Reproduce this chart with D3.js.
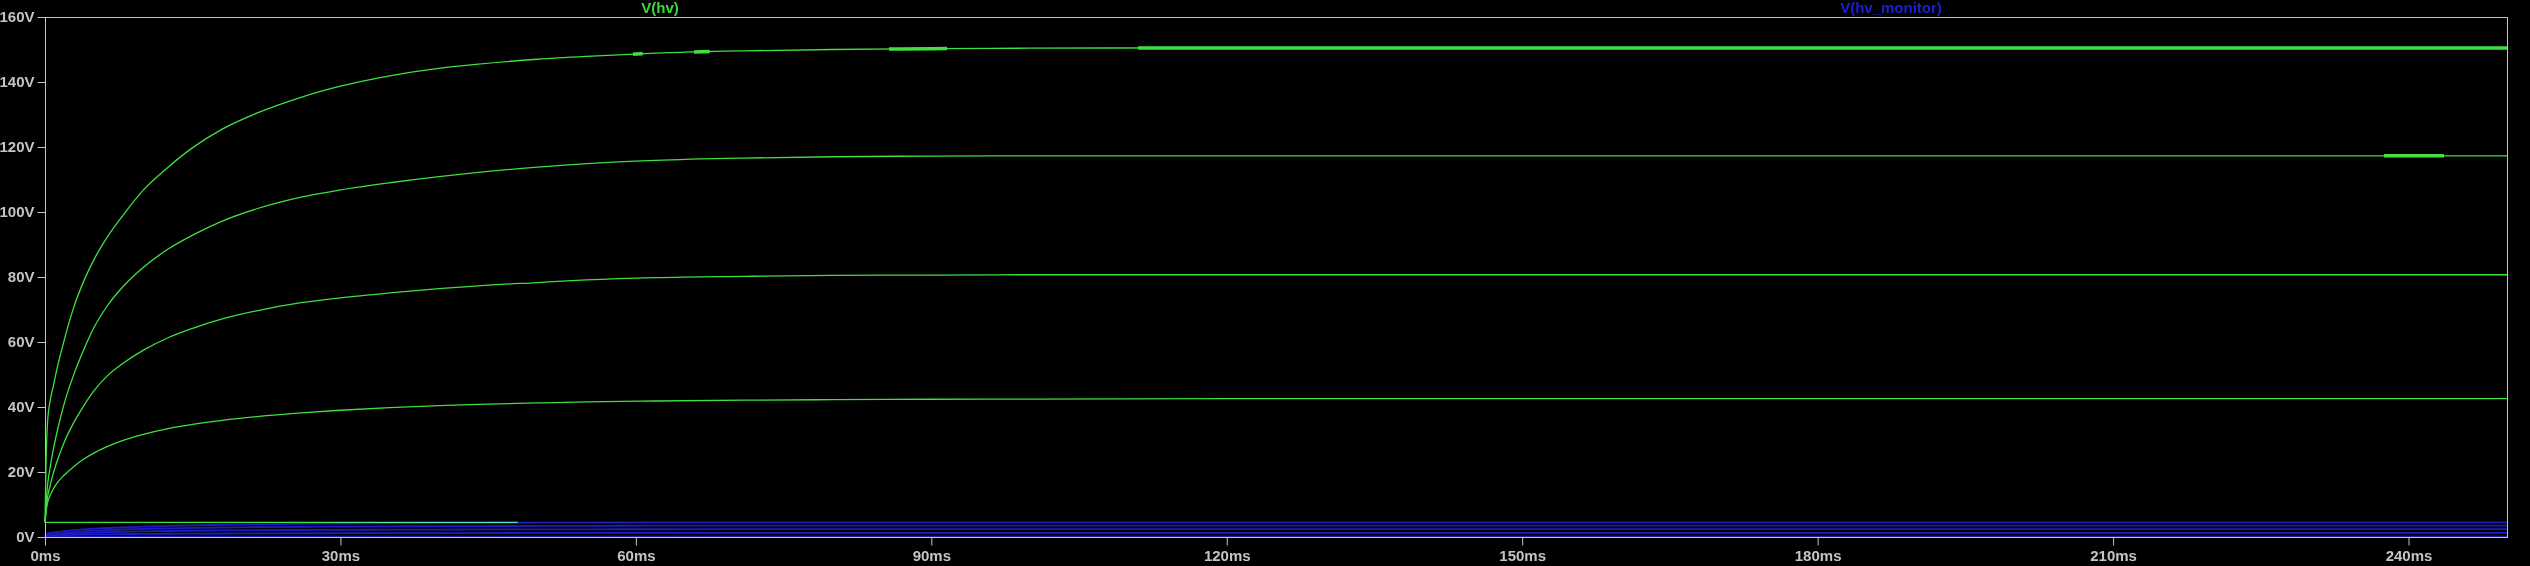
<!DOCTYPE html>
<html>
<head>
<meta charset="utf-8">
<script src="https://cdn.jsdelivr.net/npm/d3@7"></script>
<style>
  html, body { margin: 0; padding: 0; background: #000; }
  svg { display: block; }
</style>
</head>
<body>
<svg id="chart" width="2530" height="566"></svg>
<script>
// ---- data (time in ms, voltage in V) ----
const time = [0, 0.1, 0.25, 0.5, 0.85, 1.2, 1.9, 2.9, 3.9, 5, 6.3, 8, 10, 12.5, 15, 18, 21.5, 26, 30, 35, 40, 44, 50, 55, 62, 71, 80, 90, 100, 120, 150, 180, 210, 250];

const hvRun1 = [4.5, 22, 35, 41.5, 46.5, 51.5, 60.0, 70.5, 78.5, 85.5, 92.2, 99.3, 106.8, 113.8, 119.8, 125.5, 130.4, 135.3, 138.7, 141.9, 144.2, 145.5, 147.0, 147.9, 148.9, 149.6, 150.0, 150.25, 150.4, 150.5, 150.5, 150.5, 150.5, 150.5];
const hvRun2 = [4.5, 10, 15.7, 21, 27, 32, 40.5, 49.8, 57.4, 64.6, 71.0, 77.3, 83.0, 88.6, 92.9, 97.2, 101.0, 104.6, 106.8, 109.0, 110.9, 112.2, 113.8, 114.9, 115.9, 116.6, 117.0, 117.2, 117.3, 117.3, 117.3, 117.3, 117.3, 117.3];
const hvRun3 = [4.5, 8.2, 12.0, 15.6, 19.7, 23.1, 28.8, 35.1, 40.2, 45.1, 49.5, 53.6, 57.5, 61.3, 64.2, 67.1, 69.6, 72.1, 73.6, 75.1, 76.4, 77.3, 78.3, 79.1, 79.8, 80.2, 80.5, 80.6, 80.7, 80.7, 80.7, 80.7, 80.7, 80.7];
const hvRun4 = [4.5, 7.5, 10.4, 12.6, 14.8, 16.5, 18.9, 21.6, 23.9, 25.9, 27.8, 29.8, 31.6, 33.35, 34.65, 35.9, 37.05, 38.2, 39.0, 39.8, 40.4, 40.8, 41.25, 41.55, 41.85, 42.1, 42.25, 42.38, 42.45, 42.55, 42.6, 42.6, 42.6, 42.6];
const timeRun5 = [0, 48];
const hvRun5 = [4.5, 4.5];

const monRun1 = [0, 0.66, 1.05, 1.25, 1.40, 1.55, 1.80, 2.12, 2.36, 2.57, 2.77, 2.98, 3.20, 3.41, 3.59, 3.77, 3.91, 4.06, 4.16, 4.26, 4.33, 4.37, 4.41, 4.44, 4.47, 4.49, 4.50, 4.51, 4.51, 4.52, 4.52, 4.52, 4.52, 4.52];
const monRun2 = [0, 0.30, 0.47, 0.63, 0.81, 0.96, 1.22, 1.49, 1.72, 1.94, 2.13, 2.32, 2.49, 2.66, 2.79, 2.92, 3.03, 3.14, 3.20, 3.27, 3.33, 3.37, 3.41, 3.45, 3.48, 3.50, 3.51, 3.52, 3.52, 3.52, 3.52, 3.52, 3.52, 3.52];
const monRun3 = [0, 0.25, 0.36, 0.47, 0.59, 0.69, 0.86, 1.05, 1.21, 1.35, 1.49, 1.61, 1.73, 1.84, 1.93, 2.01, 2.09, 2.16, 2.21, 2.25, 2.29, 2.32, 2.35, 2.37, 2.39, 2.41, 2.42, 2.42, 2.42, 2.42, 2.42, 2.42, 2.42, 2.42];
const monRun4 = [0, 0.23, 0.31, 0.38, 0.44, 0.50, 0.57, 0.65, 0.72, 0.78, 0.83, 0.89, 0.95, 1.00, 1.04, 1.08, 1.11, 1.15, 1.17, 1.19, 1.21, 1.22, 1.24, 1.25, 1.26, 1.26, 1.27, 1.27, 1.27, 1.28, 1.28, 1.28, 1.28, 1.28];
const timeMon5 = [0, 250];
const monRun5 = [0.13, 0.13];

// ranges (ms) where the trace is drawn heavier (dense points)
const heavyRun1 = [[59.7, 60.7], [65.9, 67.5], [85.7, 91.6], [111, 250]];
const heavyRun2 = [[237.5, 243.6]];

const xTicks = [0, 30, 60, 90, 120, 150, 180, 210, 240];
const yTicks = [0, 20, 40, 60, 80, 100, 120, 140, 160];
const traceNames = ["V(hv)", "V(hv_monitor)"];

// ---- layout ----
const W = 2530, H = 566;
const mLeft = 45, mRight = 2507, mTop = 17, mBottom = 537;
const GREEN = "#3fe03f", BLUE = "#1c1cc0", GRAY = "#c4c4c4";
const FONT = "'Liberation Sans', Arial, sans-serif";

const svg = d3.select("#chart");
svg.append("rect").attr("width", W).attr("height", H).attr("fill", "#000");

const x = d3.scaleLinear().domain([0, 250]).range([mLeft, mRight]);
const y = d3.scaleLinear().domain([0, 160]).range([mBottom, mTop]);

// frame
svg.append("rect")
  .attr("x", mLeft + 0.5).attr("y", mTop + 0.5)
  .attr("width", mRight - mLeft).attr("height", mBottom - mTop)
  .attr("fill", "none").attr("stroke", GRAY).attr("stroke-width", 1);

// axes
const yAxis = svg.append("g").attr("transform", `translate(${mLeft + 0.5},0)`)
  .call(d3.axisLeft(y).tickValues(yTicks).tickSize(8).tickPadding(3).tickFormat(d => d + "V"));
const xAxis = svg.append("g").attr("transform", `translate(0,${mBottom + 0.5})`)
  .call(d3.axisBottom(x).tickValues(xTicks).tickSize(8).tickPadding(5).tickFormat(d => d + "ms"));
[yAxis, xAxis].forEach(g => {
  g.select(".domain").remove();
  g.selectAll(".tick line").attr("stroke", GRAY).attr("stroke-width", 1);
  g.selectAll(".tick text").attr("fill", GRAY)
    .style("font-family", FONT).style("font-size", "15px").style("font-weight", "bold");
});

// traces
const line = d3.line().x(d => x(d[0])).y(d => y(d[1])).curve(d3.curveMonotoneX);
const zip = (t, v) => t.map((tt, i) => [tt, v[i]]);

const plot = svg.append("g");
const greenRuns = [zip(time, hvRun1), zip(time, hvRun2), zip(time, hvRun3), zip(time, hvRun4), zip(timeRun5, hvRun5)];
greenRuns.forEach(d => {
  plot.append("path").attr("d", line(d)).attr("fill", "none")
    .attr("stroke", GREEN).attr("stroke-width", 1.3);
});

// heavy segments via clip paths
const defs = svg.append("defs");
[[greenRuns[0], heavyRun1, "h1"], [greenRuns[1], heavyRun2, "h2"]].forEach(([d, ranges, id]) => {
  const cp = defs.append("clipPath").attr("id", id);
  ranges.forEach(r => cp.append("rect")
    .attr("x", x(r[0])).attr("width", x(r[1]) - x(r[0]))
    .attr("y", mTop).attr("height", mBottom - mTop));
  plot.append("path").attr("d", line(d)).attr("fill", "none")
    .attr("stroke", GREEN).attr("stroke-width", 3.5)
    .attr("clip-path", `url(#${id})`);
});

const blueRuns = [zip(time, monRun1), zip(time, monRun2), zip(time, monRun3), zip(time, monRun4), zip(timeMon5, monRun5)];
const blueG = svg.append("g").style("mix-blend-mode", "screen");
blueRuns.forEach(d => {
  blueG.append("path").attr("d", line(d)).attr("fill", "none")
    .attr("stroke", BLUE).attr("stroke-width", 1.8);
});

// trace titles
svg.append("text").attr("x", 660).attr("y", 13).attr("text-anchor", "middle")
  .attr("fill", "#3cd83c").style("font-family", FONT).style("font-size", "15px")
  .style("font-weight", "bold").text(traceNames[0]);
svg.append("text").attr("x", 1891).attr("y", 13).attr("text-anchor", "middle")
  .attr("fill", "#1e1ed2").style("font-family", FONT).style("font-size", "15px")
  .style("font-weight", "bold").text(traceNames[1]);
</script>
</body>
</html>
